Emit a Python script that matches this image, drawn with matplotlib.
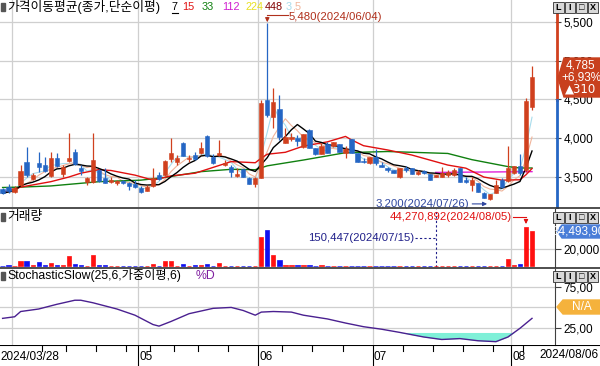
import numpy as np
import pandas as pd
import matplotlib
matplotlib.use("Agg")
import matplotlib.pyplot as plt
from matplotlib.patches import Rectangle, Polygon
from matplotlib.transforms import blended_transform_factory

plt.rcParams['font.family'] = ['Liberation Sans', 'Noto Sans CJK KR', 'DejaVu Sans']

W, H = 600, 366

# daily candles, 2024/03/28 .. 2024/08/06 (89 trading days)
opens = [3335, 3365, 3300, 3395, 3695, 3470, 3680, 3650, 3515, 3740,
         3530, 3705, 3825, 3610, 3430, 3435, 3585, 3480, 3430, 3415,
         3450, 3415, 3405, 3350, 3320, 3380, 3520, 3520, 3725, 3685,
         3930, 3725, 3780, 3810, 4025, 3760, 3780, 3650, 3630, 3510,
         3595, 3485, 3400, 3485, 4490, 4275, 4370, 3940, 3985, 3995,
         3880, 4105, 3865, 3795, 3920, 3890, 3920, 3810, 3985, 3800,
         3705, 3675, 3760, 3650, 3610, 3585, 3490, 3615, 3610, 3535,
         3575, 3535, 3500, 3500, 3520, 3520, 3610, 3455, 3395, 3415,
         3295, 3210, 3295, 3455, 3450, 3545, 3640, 3585, 4405]
highs = [3355, 3405, 3380, 3650, 3880, 3545, 3815, 3760, 3825, 3800,
         3650, 4070, 3855, 3650, 3500, 4070, 3600, 3610, 3500, 3460,
         3455, 3435, 3455, 3380, 3390, 3610, 3565, 3715, 3995, 3780,
         3950, 3780, 3825, 3950, 4040, 3795, 3975, 3715, 3650, 3610,
         3600, 3490, 3500, 4490, 5480, 4640, 4555, 4125, 4065, 4040,
         4055, 4110, 3870, 3930, 3950, 3950, 3925, 3895, 3990, 3805,
         3740, 3760, 3855, 3695, 3630, 3590, 3610, 3640, 3615, 3580,
         3580, 3540, 3525, 3630, 3585, 3610, 3615, 3500, 3500, 3420,
         3300, 3275, 3455, 3480, 3895, 3640, 3795, 4515, 4930]
lows = [3275, 3295, 3290, 3380, 3500, 3455, 3565, 3565, 3500, 3620,
        3500, 3695, 3650, 3520, 3395, 3415, 3430, 3415, 3415, 3395,
        3410, 3330, 3350, 3295, 3315, 3370, 3455, 3515, 3695, 3650,
        3765, 3695, 3715, 3795, 3760, 3665, 3765, 3640, 3500, 3500,
        3495, 3400, 3360, 3480, 4275, 4125, 3975, 3930, 3960, 3890,
        3875, 3870, 3785, 3790, 3800, 3885, 3820, 3740, 3800, 3690,
        3675, 3670, 3650, 3625, 3565, 3545, 3485, 3565, 3530, 3520,
        3540, 3455, 3495, 3490, 3500, 3510, 3430, 3415, 3320, 3300,
        3225, 3200, 3285, 3350, 3435, 3540, 3520, 3565, 4360]
closes = [3285, 3320, 3350, 3575, 3520, 3520, 3630, 3575, 3740, 3640,
          3630, 3740, 3660, 3575, 3480, 3715, 3445, 3420, 3455, 3450,
          3415, 3380, 3365, 3305, 3370, 3480, 3465, 3705, 3810, 3745,
          3765, 3745, 3730, 3875, 3765, 3675, 3810, 3680, 3565, 3530,
          3500, 3400, 3485, 4450, 4295, 4470, 4015, 4010, 4015, 3960,
          4050, 3875, 3790, 3895, 3810, 3945, 3825, 3860, 3800, 3695,
          3685, 3760, 3675, 3630, 3580, 3550, 3610, 3580, 3535, 3565,
          3545, 3455, 3520, 3550, 3555, 3580, 3435, 3435, 3455, 3305,
          3230, 3275, 3395, 3365, 3615, 3640, 3545, 4475, 4785]
# volume in shares
volumes = [800000, 1200000, 900000, 6200000, 6200000, 1200000, 4700000, 1800000, 3600000, 1800000,
           1800000, 11600000, 2500000, 1800000, 700000, 12700000, 1800000, 1800000, 600000, 600000,
           500000, 500000, 500000, 600000, 700000, 2500000, 800000, 6200000, 6200000, 900000,
           2500000, 900000, 1800000, 2000000, 2200000, 800000, 3300000, 600000, 500000, 400000,
           500000, 500000, 600000, 32700000, 41000000, 12700000, 7300000, 1800000, 1800000, 1200000,
           1800000, 1000000, 600000, 1800000, 500000, 500000, 400000, 400000, 500000, 400000,
           300000, 300000, 400000, 300000, 300000, 300000, 400000, 300000, 300000, 200000,
           200000, 300000, 150447, 300000, 200000, 300000, 400000, 300000, 400000, 400000,
           500000, 600000, 800000, 600000, 8300000, 1800000, 2500000, 44270892, 39700000]
last_volume = '34,493,905'

# moving averages (day index, price)
ma15_days = [0, 3, 8, 11, 13, 16, 18, 22, 25, 28, 32, 35, 38, 42, 43, 44, 47, 50, 54, 57,
             58, 60, 64, 68, 71, 74, 77, 80, 83, 86, 87, 88]
ma15_vals = [3295, 3365, 3435, 3495, 3545, 3590, 3580, 3520, 3455, 3510, 3545, 3620, 3695, 3680,
             3740, 3790, 3815, 3895, 3950, 4020, 3975, 3900, 3845, 3780, 3715, 3650, 3610, 3495,
             3455, 3460, 3525, 3605]
ma33_days = [0, 3, 8, 16, 23, 27, 33, 38, 42, 44, 48, 50, 57, 64, 74, 78, 84, 86, 88]
ma33_vals = [3360, 3365, 3380, 3435, 3455, 3490, 3565, 3595, 3590, 3640, 3690, 3715, 3810, 3825,
             3800, 3720, 3630, 3612, 3612]
ma112_days = [72, 80, 88]
ma112_vals = [3555, 3560, 3565]

# stochastic slow %D
stoch_days = [0, 2, 3, 6, 9, 12, 13, 15, 19, 22, 25, 26, 28, 31, 35, 38, 40, 42, 43, 45, 48,
              50, 54, 57, 60, 63, 66, 70, 73, 76, 79, 82, 84, 86, 88]
stoch_vals = [36.9, 38.8, 45.1, 48.1, 53.7, 58.6, 58.6, 55.6, 48.1, 40.7, 29.5, 27.6, 33.2, 42.5,
              48.9, 50.0, 46.3, 40.7, 44.4, 45.1, 44.4, 40.7, 36.2, 31.3, 26.9, 23.9, 20.1, 14.6,
              11.6, 12.7, 10.1, 9.0, 14.6, 25.0, 36.9]

month_days = [1.5, 22.5, 42.5, 61.5, 84.5]
month_labels = ['05', '06', '07', '08']
week_days = [6.5, 10.5, 15.5, 20.5, 24.5, 28.5, 32.5, 37.5, 46.5, 51.5, 56.5, 66.5, 71.5,
             76.5, 81.5, 86.5]

UP = '#d0401e'
DOWN = '#2566c4'
GRID = '#cfcfcf'

n = len(closes)
idx = np.arange(n)
cl = pd.Series(closes)
ma3 = cl.rolling(3, min_periods=1).mean()
ma5 = cl.rolling(5, min_periods=1).mean()
ma7 = cl.rolling(7, min_periods=1).mean()

X0, DX = 2.6, 6.016
xlim = ((0 - X0) / DX, (555 - X0) / DX)

fig = plt.figure(figsize=(W / 100, H / 100), dpi=100)


def pax(x0, y0, x1, y1):
    return fig.add_axes([x0 / W, 1 - y1 / H, (x1 - x0) / W, (y1 - y0) / H])


def ftext(x, y, s, **kw):
    kw.setdefault('va', 'center')
    return fig.text(x / W, 1 - y / H, s, **kw)


def style(ax):
    ax.set_xlim(*xlim)
    for s in ['top', 'left', 'bottom']:
        ax.spines[s].set_visible(False)
    ax.spines['right'].set_color('#404040')
    ax.yaxis.tick_right()
    ax.tick_params(axis='y', length=4, width=0.8, color='#404040', labelsize=8.5, pad=2)
    ax.set_xticks([])
    for m in month_days:
        ax.axvline(m, color=GRID, lw=0.9, zorder=0)


# ---------- price panel ----------
ax = pax(0, 0, 555, 207)
style(ax)
ax.set_ylim(3108, 5783)
ax.set_yticks([3500, 4000, 4500, 5000, 5500])
ax.set_yticklabels(['3,500', '4,000', '4,500', '5,000', '5,500'])
for p in [3500, 4000, 4500, 5000, 5500]:
    ax.axhline(p, color=GRID, lw=0.9, zorder=0)
ax.spines['right'].set_visible(False)

o = np.array(opens); c = np.array(closes)
up = c >= o
cols = np.where(up, UP, DOWN)
ax.vlines(idx, lows, highs, colors=cols, lw=0.9, zorder=3)
body_lo = np.minimum(o, c)
body_h = np.maximum(np.abs(c - o), 14)
ax.bar(idx, body_h, bottom=body_lo, width=0.72, color=cols, edgecolor=cols, lw=0.4, zorder=4)

ax.plot(idx, ma3, color='#a8dcec', lw=0.8, zorder=2)
ax.plot(idx, ma5, color='#f0b49a', lw=0.8, zorder=2)
ax.plot(ma112_days, ma112_vals, color='#e020d8', lw=1.0, zorder=2)
ax.plot(ma33_days, ma33_vals, color='#108010', lw=1.0, zorder=2)
ax.plot(ma15_days, ma15_vals, color='#e01010', lw=1.0, zorder=2)
ax.plot(idx, ma7, color='black', lw=1.0, zorder=2)

# price bar on the right edge
bt = blended_transform_factory(ax.transAxes, ax.transData)
ax.plot([1.003, 1.003], [closes[-2] + 15, 5615], color=UP, lw=2, transform=bt, clip_on=False)
ax.plot([1.003, 1.003], [3108, closes[-2] + 15], color=DOWN, lw=2, transform=bt, clip_on=False)

# high / low marks
hi_i = int(np.argmax(highs)); lo_i = int(np.argmin(lows))
ax.annotate('', xy=(hi_i, highs[hi_i] - 20), xytext=(hi_i, 5595),
            arrowprops=dict(arrowstyle='-|>', color='#b0301c', lw=0.8, mutation_scale=6))
ax.plot([hi_i, hi_i + 3.45], [5595, 5595], color='#b0301c', lw=0.8)
ax.text(hi_i + 3.5, 5565, '{:,}(2024/06/04)'.format(highs[hi_i]), color='#b0301c',
        fontsize=8.2, va='center', ha='left')
ax.annotate('', xy=(lo_i, 3148), xytext=(lo_i - 3.4, 3148),
            arrowprops=dict(arrowstyle='-|>', color='#3048a0', lw=0.8, mutation_scale=6))
ax.text(lo_i - 3.5, 3148, '{:,}(2024/07/26)'.format(lows[lo_i]), color='#3048a0',
        fontsize=8.2, va='center', ha='right')

# ---------- volume panel ----------
av = pax(0, 209, 555, 267)
style(av)
av.set_ylim(-800000, 65000000)
av.set_yticks([20000000])
av.set_yticklabels(['20,000,000'])
av.axhline(20000000, color=GRID, lw=0.9, zorder=0)
vcols = np.where(up, '#ff1010', '#1010f0')
av.bar(idx, volumes, width=0.72, color=vcols, edgecolor=vcols, lw=0.5, zorder=3)
mx = int(np.argmax(volumes)); mn = int(np.argmin(volumes))
av.annotate('', xy=(mx, volumes[mx] + 500000), xytext=(mx, 56000000),
            arrowprops=dict(arrowstyle='-|>', color='#e01010', lw=0.8, mutation_scale=6))
av.plot([mx - 2.2, mx], [56000000, 56000000], color='#e01010', lw=0.8)
av.text(mx - 2.3, 56000000, '{:,}(2024/08/05)'.format(volumes[mx]), color='#e01010',
        fontsize=8.2, va='center', ha='right')
av.axvline(mn, color='#20208a', lw=0.8, ls=(0, (2, 2)), zorder=1)
av.plot([mn - 3.4, mn], [32000000, 32000000], color='#20208a', lw=0.8, ls=(0, (2, 2)))
av.text(mn - 3.5, 32000000, '{:,}(2024/07/15)'.format(volumes[mn]), color='#20208a',
        fontsize=8.2, va='center', ha='right')

# ---------- stochastic panel ----------
asx = pax(0, 269, 555, 345)
style(asx)
asx.set_ylim(5, 96)
asx.set_yticks([25, 75])
asx.set_yticklabels(['25,00', '75,00'])
for v in [25, 50, 75]:
    asx.axhline(v, color=GRID, lw=0.9, zorder=0)
sd = np.array(stoch_days); sv = np.array(stoch_vals)
asx.fill_between(sd, sv, 20, where=sv < 20, interpolate=True, color='#7ff0d8', lw=0, zorder=1)
asx.plot(sd, sv, color='#4a2090', lw=1.0, zorder=2)

# ---------- date axis ----------
ad = pax(0, 345, 600, 366)
ad.set_xlim(xlim[0], xlim[0] + (xlim[1] - xlim[0]) * 600 / 555)
ad.set_ylim(0, 1)
ad.axis('off')
ad.axhline(1, color='black', lw=1.5)
for m in month_days[1:]:
    ad.axvline(m, 0.0, 1, color='black', lw=0.8)
for w in week_days:
    ad.axvline(w, 0.7, 1, color='black', lw=0.8)
ad.text(xlim[0] + 0.1, 0.45, '2024/03/28', fontsize=8.5, va='center', ha='left')
for m, lab in zip(month_days[1:], month_labels):
    ad.text(m + 0.2, 0.45, lab, fontsize=8.5, va='center', ha='left')
ftext(599, 355.5, '2024/08/06', fontsize=8.5, ha='right')

# separators
for y in [208, 268]:
    fig.add_artist(plt.Line2D([0, 1], [1 - y / H, 1 - y / H], color='#303030', lw=1.2))

# ---------- headers ----------
def marker(y):
    fig.add_artist(Rectangle((1 / W, 1 - (y + 4) / H), 4 / W, 8 / H, color='#555555'))

marker(7)
ftext(7, 7, '가격이동평균(종가,단순이평)', fontsize=9.2, color='black')
for x, s, col in [(172, '7', 'black'), (182, '15', '#e01010'), (202, '33', '#108010'),
                  (222, '112', '#d020d0'), (245, '224', '#e8e020'), (265, '448', '#800000'),
                  (286, '3', '#a8dcec'), (292, ',5', '#f0b49a')]:
    ftext(x, 6.5, s, fontsize=7.8, color=col)
fig.add_artist(plt.Line2D([172 / W, 178 / W], [1 - 12.5 / H, 1 - 12.5 / H], color='black', lw=0.8))

marker(217)
ftext(7, 217, '거래량', fontsize=9.2, color='black')
marker(276)
ftext(7, 276, 'StochasticSlow(25,6,가중이평,6)', fontsize=8.8, color='black')
ftext(196, 276, '%D', fontsize=8.8, color='#8020a0')

# window buttons
for yb in [2, 212, 271]:
    for k, g in enumerate(['L', 'I', '□', 'X']):
        x0 = 553 + k * 11.5
        fig.add_artist(Rectangle((x0 / W, 1 - (yb + 11) / H), 10.5 / W, 11 / H,
                                 facecolor='#d8d8d8', edgecolor='#303030', lw=0.6))
        ftext(x0 + 5.2, yb + 5.5, g, fontsize=6.5, ha='center', weight='bold')

# current price box
pts = [(558, 78), (564, 58), (600, 58), (600, 97), (564, 97)]
fig.add_artist(Polygon([(x / W, 1 - y / H) for x, y in pts], closed=True, color='#c8401e'))
ftext(581, 65, '4,785', fontsize=8.5, color='white', ha='center')
ftext(581, 77, '+6,93%', fontsize=8.5, color='white', ha='center')
ftext(581, 89, '▲310', fontsize=8.5, color='white', ha='center', family=['DejaVu Sans'])

# current volume box (text clipped by the box)
pts = [(557, 231), (562, 225), (600, 225), (600, 238), (562, 238)]
vbox = Polygon([(x / W, 1 - y / H) for x, y in pts], closed=True, color='#4a7ed8')
fig.add_artist(vbox)
t = ftext(553, 231.5, last_volume, fontsize=8.5, color='white', ha='left')
t.set_clip_path(vbox)

# N/A box
pts = [(557, 307), (563, 300), (600, 300), (600, 314), (563, 314)]
fig.add_artist(Polygon([(x / W, 1 - y / H) for x, y in pts], closed=True, color='#f5b23c'))
ftext(582, 307, 'N/A', fontsize=8.5, color='white', ha='center')

fig.savefig('out.png', dpi=100)
